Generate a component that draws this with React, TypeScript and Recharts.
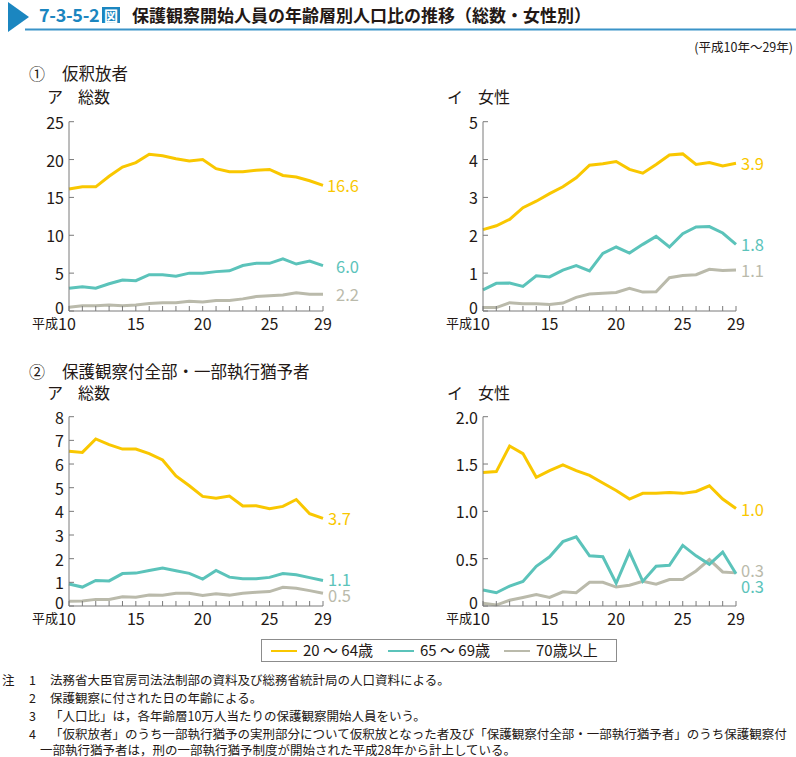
import React from 'react';
import { LineChart, Line, XAxis, YAxis } from 'recharts';

// ---- data ----
const years = [10, 11, 12, 13, 14, 15, 16, 17, 18, 19, 20, 21, 22, 23, 24, 25, 26, 27, 28, 29];
const xLabelYears = [10, 15, 20, 25, 29];
const seriesNames = ['20 ～ 64歳', '65 ～ 69歳', '70歳以上'];

// ① 仮釈放者 ア 総数
const paroleTotal2064 = [16.1, 16.4, 16.4, 17.8, 19.0, 19.6, 20.7, 20.5, 20.1, 19.8, 20.0, 18.8, 18.4, 18.4, 18.6, 18.7, 17.9, 17.7, 17.2, 16.6];
const paroleTotal6569 = [3.0, 3.2, 3.0, 3.6, 4.1, 4.0, 4.8, 4.8, 4.6, 5.0, 5.0, 5.2, 5.3, 6.0, 6.3, 6.3, 6.9, 6.2, 6.6, 6.0];
const paroleTotal70 = [0.5, 0.7, 0.7, 0.8, 0.7, 0.8, 1.0, 1.1, 1.1, 1.3, 1.2, 1.4, 1.4, 1.6, 1.9, 2.0, 2.1, 2.4, 2.2, 2.2];

// ① 仮釈放者 イ 女性
const paroleFemale2064 = [2.15, 2.25, 2.42, 2.73, 2.9, 3.1, 3.28, 3.52, 3.85, 3.89, 3.95, 3.74, 3.64, 3.87, 4.12, 4.15, 3.87, 3.92, 3.83, 3.9];
const paroleFemale6569 = [0.56, 0.73, 0.74, 0.65, 0.93, 0.9, 1.08, 1.2, 1.06, 1.52, 1.69, 1.53, 1.76, 1.97, 1.69, 2.04, 2.22, 2.23, 2.06, 1.76];
const paroleFemale70 = [0.09, 0.09, 0.22, 0.19, 0.19, 0.17, 0.21, 0.36, 0.45, 0.47, 0.49, 0.6, 0.5, 0.51, 0.88, 0.94, 0.96, 1.1, 1.07, 1.08];

// ② 保護観察付全部・一部執行猶予者 ア 総数
const probTotal2064 = [6.54, 6.49, 7.06, 6.82, 6.63, 6.63, 6.44, 6.17, 5.5, 5.08, 4.63, 4.55, 4.65, 4.23, 4.24, 4.11, 4.21, 4.5, 3.9, 3.7];
const probTotal6569 = [0.93, 0.8, 1.08, 1.06, 1.37, 1.39, 1.5, 1.6, 1.49, 1.38, 1.14, 1.5, 1.22, 1.15, 1.15, 1.21, 1.37, 1.32, 1.2, 1.08];
const probTotal70 = [0.2, 0.21, 0.28, 0.28, 0.39, 0.37, 0.46, 0.45, 0.54, 0.54, 0.44, 0.52, 0.46, 0.54, 0.58, 0.61, 0.79, 0.75, 0.65, 0.54];

// ② 保護観察付全部・一部執行猶予者 イ 女性
const probFemale2064 = [1.41, 1.42, 1.69, 1.61, 1.36, 1.43, 1.49, 1.43, 1.38, 1.3, 1.22, 1.13, 1.19, 1.19, 1.2, 1.19, 1.21, 1.27, 1.13, 1.03];
const probFemale6569 = [0.17, 0.14, 0.21, 0.26, 0.42, 0.52, 0.68, 0.73, 0.53, 0.52, 0.24, 0.57, 0.26, 0.42, 0.43, 0.64, 0.53, 0.44, 0.57, 0.34];
const probFemale70 = [0.03, 0.01, 0.06, 0.09, 0.12, 0.09, 0.15, 0.14, 0.25, 0.25, 0.2, 0.22, 0.26, 0.23, 0.28, 0.28, 0.37, 0.49, 0.36, 0.35];

const paroleTotalTicks = [0, 5, 10, 15, 20, 25];
const paroleFemaleTicks = [0, 1, 2, 3, 4, 5];
const probTotalTicks = [0, 1, 2, 3, 4, 5, 6, 7, 8];
const probFemaleTicks = [0, 0.5, 1.0, 1.5, 2.0];

const notes = [
  { num: '1', text: '法務省大臣官房司法法制部の資料及び総務省統計局の人口資料による。' },
  { num: '2', text: '保護観察に付された日の年齢による。' },
  { num: '3', text: '「人口比」は，各年齢層10万人当たりの保護観察開始人員をいう。' },
  { num: '4', text: '「仮釈放者」のうち一部執行猶予の実刑部分について仮釈放となった者及び「保護観察付全部・一部執行猶予者」のうち保護観察付' },
];
const noteCont = '一部執行猶予者は，刑の一部執行猶予制度が開始された平成28年から計上している。';

// ---- styles ----
const FONT = "'Noto Sans CJK JP', 'Noto Sans', sans-serif";
const TEXT = '#231815';
const AXIS = '#7a7a7a';
const BLUE = '#1b86c0';
const COLORS = ['#F9C700', '#5BC3BA', '#BABAAB'];

type LabelCfg = { anchor: 'start' | 'end'; dx: number; dy: number };

function XTick(props: any) {
  const { x, y, payload } = props;
  const v = payload.value;
  return (
    <g>
      <line x1={x} x2={x} y1={y} y2={y - 5} stroke={AXIS} strokeWidth={1} />
      {xLabelYears.includes(v) && (
        <text x={v === 10 ? x - 2 : x} y={y + 11.5} textAnchor="middle" dominantBaseline="central" fontSize={16} fill={TEXT} fontFamily={FONT}>
          {v}
        </text>
      )}
      {v === 10 && (
        <text x={x - 11} y={y + 11.5} textAnchor="end" dominantBaseline="central" fontSize={13} fill={TEXT} fontFamily={FONT}>
          平成
        </text>
      )}
    </g>
  );
}

function makeYTick(fmt: (v: number) => string) {
  return (props: any) => {
    const { x, y, payload } = props;
    const v = payload.value;
    return (
      <g>
        <line x1={x} x2={x + 5} y1={y} y2={y} stroke={AXIS} strokeWidth={1} />
        <text x={x - 5} y={v === 0 ? y - 4.5 : y} textAnchor="end" dominantBaseline="central" fontSize={16} fill={TEXT} fontFamily={FONT}>
          {fmt(v)}
        </text>
      </g>
    );
  };
}

function makeEndLabel(color: string, cfg: LabelCfg) {
  return (props: any) => {
    const { x, y, index, value } = props;
    if (index !== years.length - 1) return <g />;
    return (
      <text x={x + cfg.dx} y={y + cfg.dy} textAnchor={cfg.anchor} dominantBaseline="central" fontSize={16.5} fill={color} fontFamily={FONT}>
        {Number(value).toFixed(1)}
      </text>
    );
  };
}

function Panel(p: {
  left: number; top: number; marginRight: number;
  s: number[][]; yMax: number; yTicks: number[]; yFmt: (v: number) => string; labels: LabelCfg[];
}) {
  const data = years.map((yr, i) => ({ year: yr, a: p.s[0][i], b: p.s[1][i], c: p.s[2][i] }));
  const keys = ['a', 'b', 'c'];
  const order = [2, 1, 0];
  return (
    <div style={{ position: 'absolute', left: p.left, top: p.top }}>
      <LineChart width={400} height={230} data={data} margin={{ top: 11.7, right: p.marginRight, bottom: 0, left: 0 }}>
        <XAxis dataKey="year" type="number" domain={[10, 29]} ticks={years} interval={0}
          tick={<XTick />} tickLine={false} tickSize={0} tickMargin={0} height={29}
          axisLine={{ stroke: AXIS, strokeWidth: 1 }} />
        <YAxis type="number" domain={[0, p.yMax]} ticks={p.yTicks} interval={0}
          tick={makeYTick(p.yFmt)} tickLine={false} tickSize={0} tickMargin={0} width={69}
          axisLine={{ stroke: AXIS, strokeWidth: 1 }} />
        {order.map((i) => (
          <Line key={keys[i]} dataKey={keys[i]} type="linear" stroke={COLORS[i]} strokeWidth={3}
            dot={false} activeDot={false} isAnimationActive={false}
            label={makeEndLabel(COLORS[i], p.labels[i])} />
        ))}
      </LineChart>
    </div>
  );
}

const txt = (s: React.CSSProperties): React.CSSProperties => ({
  position: 'absolute', whiteSpace: 'nowrap', lineHeight: 1, color: TEXT, fontFamily: FONT, ...s,
});

const intFmt = (v: number) => String(v);
const decFmt = (v: number) => (v === 0 ? '0' : v.toFixed(1));

export default function App() {
  const endR: LabelCfg = { anchor: 'end', dx: 36, dy: 0 };
  const startL = (dy = 0): LabelCfg => ({ anchor: 'start', dx: 5, dy });
  return (
    <div style={{ position: 'absolute', left: 0, top: 0, width: 796, height: 757, background: '#fff', overflow: 'hidden', fontFamily: FONT }}>
      {/* title */}
      <svg width={796} height={34} style={{ position: 'absolute', left: 0, top: 0 }}>
        <polygon points="8,2 29,17 8,32" fill={BLUE} />
        <rect x={25} y={28.5} width={771} height={2} fill="#3a93c8" />
      </svg>
      <div style={txt({ left: 39, top: 5, fontSize: 18, fontWeight: 700, color: BLUE, letterSpacing: -0.3 })}>7-3-5-2</div>
      <div style={txt({ left: 102, top: 7, width: 18, height: 16, background: BLUE, color: '#fff', fontSize: 14, fontWeight: 700, textAlign: 'center', lineHeight: '16px' })}>図</div>
      <div style={txt({ left: 132, top: 5.5, fontSize: 17, fontWeight: 700 })}>保護観察開始人員の年齢層別人口比の推移（総数・女性別）</div>

      <div style={txt({ right: 3, top: 41, fontSize: 12.5 })}>(平成10年～29年)</div>

      {/* section ① */}
      <div style={txt({ left: 29, top: 65, fontSize: 16 })}>①</div>
      <div style={txt({ left: 62, top: 65, fontSize: 16.5 })}>仮釈放者</div>
      <div style={txt({ left: 47, top: 88, fontSize: 16 })}>ア</div>
      <div style={txt({ left: 78, top: 88, fontSize: 16 })}>総数</div>
      <div style={txt({ left: 447, top: 88, fontSize: 16 })}>イ</div>
      <div style={txt({ left: 478, top: 88, fontSize: 16 })}>女性</div>

      {/* section ② */}
      <div style={txt({ left: 29, top: 363, fontSize: 16 })}>②</div>
      <div style={txt({ left: 62, top: 363, fontSize: 16.5 })}>保護観察付全部・一部執行猶予者</div>
      <div style={txt({ left: 47, top: 384, fontSize: 16 })}>ア</div>
      <div style={txt({ left: 78, top: 384, fontSize: 16 })}>総数</div>
      <div style={txt({ left: 447, top: 384, fontSize: 16 })}>イ</div>
      <div style={txt({ left: 478, top: 384, fontSize: 16 })}>女性</div>

      <Panel left={0} top={110} marginRight={77} s={[paroleTotal2064, paroleTotal6569, paroleTotal70]}
        yMax={25} yTicks={paroleTotalTicks} yFmt={intFmt} labels={[endR, endR, endR]} />
      <Panel left={414} top={110} marginRight={78} s={[paroleFemale2064, paroleFemale6569, paroleFemale70]}
        yMax={5} yTicks={paroleFemaleTicks} yFmt={intFmt} labels={[startL(), startL(), startL()]} />
      <Panel left={0} top={405} marginRight={77} s={[probTotal2064, probTotal6569, probTotal70]}
        yMax={8} yTicks={probTotalTicks} yFmt={intFmt} labels={[startL(), startL(-1.5), startL(2)]} />
      <Panel left={414} top={405} marginRight={78} s={[probFemale2064, probFemale6569, probFemale70]}
        yMax={2} yTicks={probFemaleTicks} yFmt={decFmt} labels={[startL(), startL(12), startL(-3)]} />

      {/* legend */}
      <div style={{ position: 'absolute', left: 261, top: 639, width: 354, height: 21, border: '1px solid #8c8c8c', background: '#fff' }} />
      {seriesNames.map((name, i) => {
        const lx = [271, 388, 504][i];
        return (
          <React.Fragment key={name}>
            <div style={{ position: 'absolute', left: lx, top: 649.5, width: 26, height: 2, background: COLORS[i] }} />
            <div style={txt({ left: lx + 32, top: 642, fontSize: 15 })}>{name}</div>
          </React.Fragment>
        );
      })}

      {/* notes */}
      <div style={txt({ left: 2, top: 674, fontSize: 12.5 })}>注</div>
      {notes.map((n, i) => (
        <React.Fragment key={n.num}>
          <div style={txt({ left: 29, top: 674 + i * 18, fontSize: 12.5 })}>{n.num}</div>
          <div style={txt({ left: 50, top: 674 + i * 18, fontSize: 12.5 })}>{n.text}</div>
        </React.Fragment>
      ))}
      <div style={txt({ left: 40, top: 743.5, fontSize: 12.5 })}>{noteCont}</div>
    </div>
  );
}
